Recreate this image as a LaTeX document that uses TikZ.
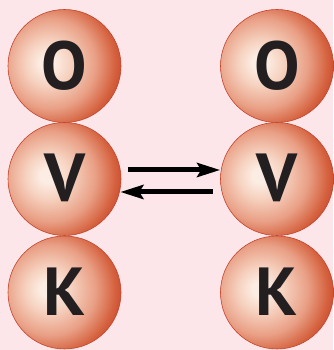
\documentclass[tikz,border=0pt]{standalone}
\usepackage{fontspec}
\newfontfamily\lettfont{PT Sans}
\usetikzlibrary{arrows.meta}
\definecolor{bgpink}{HTML}{FDE6E9}
\definecolor{sphA}{HTML}{FCEDE4}
\definecolor{sphB}{HTML}{F6D2C0}
\definecolor{sphC}{HTML}{E9A086}
\definecolor{sphD}{HTML}{D5623F}
\definecolor{sphE}{HTML}{C6432B}
\definecolor{rimc}{HTML}{C4442C}
\definecolor{letc}{HTML}{231F20}
\pgfdeclareradialshading{sph}{\pgfpoint{-8bp}{1.5bp}}{%
  color(0bp)=(sphA); color(3bp)=(sphA); color(10bp)=(sphB); color(20bp)=(sphC);
  color(28bp)=(sphD); color(33bp)=(sphE); color(100bp)=(sphE)}
\tikzset{
  ball/.style={circle, minimum size=113pt, inner sep=0pt, shading=sph, draw=rimc, line width=0.6pt,
    font=\lettfont\bfseries\fontsize{68}{68}\selectfont, text=letc},
  arr/.style={line width=5pt, -{Stealth[length=23pt,width=14pt,inset=4pt]}}
}
\begin{document}
\begin{tikzpicture}[x=1pt,y=1pt]
\fill[bgpink] (0,0) rectangle (333,350);
\useasboundingbox (0,0) rectangle (333,350);
\node[ball] (lO) at (64.5,284) {\raisebox{2.5pt}{O}};
\node[ball] (lV) at (64.5,171) {\raisebox{2.5pt}{V}};
\node[ball] (lK) at (64.5,57.5) {\raisebox{2.5pt}{K}};
\node[ball] (rO) at (277,284) {\raisebox{2.5pt}{O}};
\node[ball] (rV) at (277,171) {\raisebox{2.5pt}{V}};
\node[ball] (rK) at (277,57.5) {\raisebox{2.5pt}{K}};
\draw[arr] ([xshift=7pt,yshift=9pt]lV.east) -- ([yshift=9pt]rV.west);
\draw[arr] ([xshift=-7.5pt,yshift=-13pt]rV.west) -- ([xshift=-1pt,yshift=-13pt]lV.east);
\end{tikzpicture}
\end{document}
